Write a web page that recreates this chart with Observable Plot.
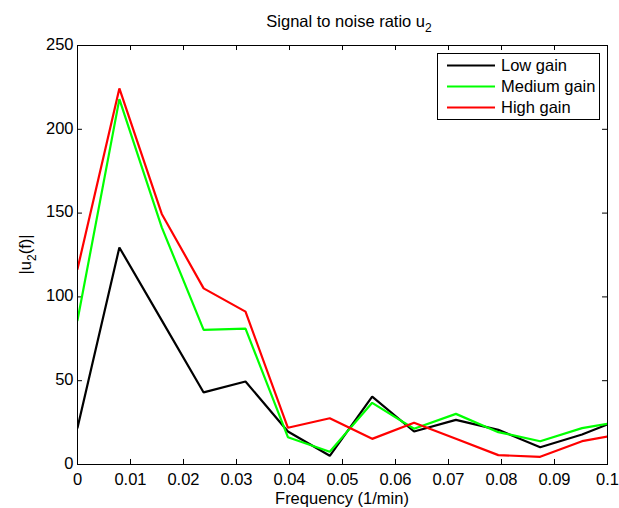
<!DOCTYPE html>
<html>
<head>
<meta charset="utf-8">
<script src="https://cdn.jsdelivr.net/npm/d3@7"></script>
<script src="https://cdn.jsdelivr.net/npm/@observablehq/plot@0.6"></script>
<style>
  html, body { margin: 0; padding: 0; background: #fff; }
  #chart svg { display: block; }
</style>
</head>
<body>
<div id="chart"></div>
<script>
// ---- data ----
const freq   = [0, 0.0079, 0.0159, 0.0238, 0.0317, 0.0397, 0.0476, 0.0556, 0.0635, 0.0714, 0.0794, 0.0873, 0.0952, 0.1];
const low    = [22, 129.5, 86, 43, 49.5, 19.7, 5.2, 40.5, 19.7, 26.6, 20.7, 10.3, 17.9, 23.9];
const medium = [86, 218, 141.5, 80.3, 81.1, 16.3, 7.6, 36.8, 21.3, 30.2, 19.3, 13.9, 21.7, 24.3];
const high   = [116.7, 224.4, 149.5, 105.1, 91.2, 21.9, 27.6, 15.3, 24.9, 15.4, 5.6, 4.6, 13.9, 16.7];
const seriesNames = ["Low gain", "Medium gain", "High gain"];
const seriesColors = ["#000000", "#00ff00", "#ff0000"];
const xTicks = [0, 0.01, 0.02, 0.03, 0.04, 0.05, 0.06, 0.07, 0.08, 0.09, 0.1];
const yTicks = [0, 50, 100, 150, 200, 250];

const seriesValues = [low, medium, high];
const rows = [];
seriesValues.forEach((vals, s) => {
  vals.forEach((v, i) => rows.push({series: seriesNames[s], f: freq[i], v}));
});

const W = 619, H = 508;
const mL = 77, mR = 12, mT = 45, mB = 44;
const font = "'Liberation Sans', Arial, Helvetica, sans-serif";
const FS = 16.5;

const chart = Plot.plot({
  width: W,
  height: H,
  marginLeft: mL,
  marginRight: mR,
  marginTop: mT,
  marginBottom: mB,
  style: {fontFamily: font, fontSize: FS + "px", color: "#000", background: "#fff", overflow: "visible"},
  x: {domain: [0, 0.1], ticks: xTicks},
  y: {domain: [0, 250], ticks: yTicks},
  color: {domain: seriesNames, range: seriesColors},
  marks: [
    Plot.axisX(xTicks, {tickSize: 0, tickPadding: 9, fontSize: FS, tickFormat: d => String(+d.toFixed(2)), label: null}),
    Plot.axisY(yTicks, {tickSize: 0, tickPadding: 4, dy: -1, fontSize: FS, label: null}),
    // inward tick marks (MATLAB style)
    Plot.ruleX(xTicks, {x: d => d, y1: 0, y2: 3, stroke: "#000", strokeWidth: 1}),
    Plot.ruleX(xTicks, {x: d => d, y1: 250, y2: 247, stroke: "#000", strokeWidth: 1}),
    Plot.ruleY(yTicks, {y: d => d, x1: 0, x2: 0.00094, stroke: "#000", strokeWidth: 1}),
    Plot.ruleY(yTicks, {y: d => d, x1: 0.1, x2: 0.09906, stroke: "#000", strokeWidth: 1}),
    Plot.line(rows, {x: "f", y: "v", z: "series", stroke: "series", strokeWidth: 2.2, strokeLinejoin: "miter", clip: true}),
    Plot.frame({stroke: "#000", strokeWidth: 1})
  ]
});

document.getElementById("chart").appendChild(chart);

// ---- title, axis labels and legend as real SVG text ----
const svg = d3.select(chart);
const cx = mL + (W - mL - mR) / 2;
const cy = mT + (H - mT - mB) / 2;

const title = svg.append("text")
  .attr("x", cx + 7).attr("y", 27)
  .attr("text-anchor", "middle")
  .attr("font-family", font).attr("font-size", FS).attr("fill", "#000");
title.append("tspan").text("Signal to noise ratio u");
title.append("tspan").attr("dy", 5).attr("font-size", 12).text("2");

svg.append("text")
  .attr("x", cx).attr("y", 504)
  .attr("text-anchor", "middle")
  .attr("font-family", font).attr("font-size", FS).attr("fill", "#000")
  .text("Frequency (1/min)");

const yl = svg.append("text")
  .attr("transform", `translate(31,${cy}) rotate(-90)`)
  .attr("text-anchor", "middle")
  .attr("font-family", font).attr("font-size", FS).attr("fill", "#000");
yl.append("tspan").text("|u");
yl.append("tspan").attr("dy", 5).attr("font-size", 12).text("2");
yl.append("tspan").attr("dy", -5).text("(f)|");

// legend
const lg = svg.append("g").attr("text-anchor", "start");
lg.append("rect")
  .attr("x", 437.5).attr("y", 53.5).attr("width", 162).attr("height", 66)
  .attr("fill", "#fff").attr("stroke", "#000").attr("stroke-width", 1);
seriesNames.forEach((name, i) => {
  const y = 65.5 + i * 21;
  lg.append("line")
    .attr("x1", 447).attr("x2", 495).attr("y1", y).attr("y2", y)
    .attr("stroke", seriesColors[i]).attr("stroke-width", 2.2);
  lg.append("text")
    .attr("x", 501).attr("y", y).attr("dy", "0.35em")
    .attr("text-anchor", "start")
    .attr("font-family", font).attr("font-size", FS).attr("fill", "#000")
    .text(name);
});
</script>
</body>
</html>
